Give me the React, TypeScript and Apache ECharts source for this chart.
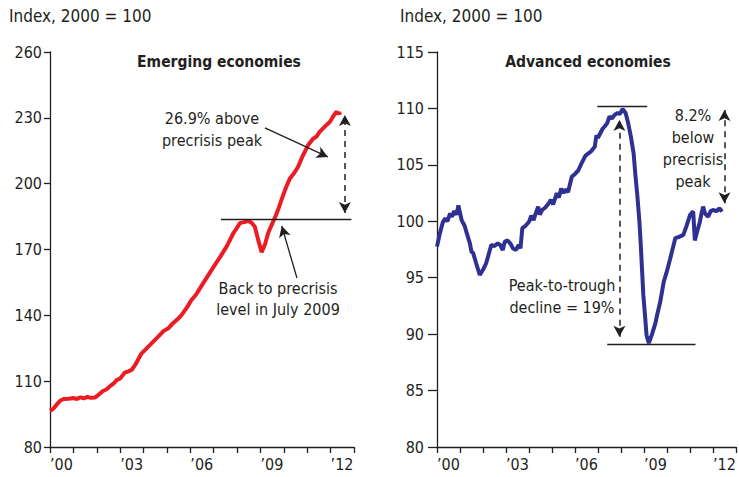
import React, { useEffect, useRef } from "react";
import * as echarts from "echarts";

// Emerging economies (decimal year, index 2000 = 100)
const emTimes = [
  2000.0, 2000.15, 2000.3, 2000.45, 2000.6, 2000.8, 2001.0, 2001.15, 2001.3, 2001.45, 2001.6, 2001.75, 2001.92,
  2002.1, 2002.25, 2002.42, 2002.6, 2002.75, 2002.85, 2003.0, 2003.2, 2003.35, 2003.49, 2003.65, 2003.8, 2003.92,
  2004.1, 2004.3, 2004.49, 2004.65, 2004.85, 2005.06, 2005.25, 2005.45, 2005.63, 2005.85, 2006.05, 2006.25,
  2006.41, 2006.75, 2007.05, 2007.3, 2007.55, 2007.84, 2008.0, 2008.12, 2008.3, 2008.48, 2008.62,
  2008.76, 2008.9, 2009.05, 2009.2, 2009.33, 2009.47, 2009.62, 2009.8, 2009.97, 2010.1, 2010.26, 2010.45,
  2010.61, 2010.8, 2011.04, 2011.25, 2011.4, 2011.54, 2011.75, 2011.97, 2012.1, 2012.25, 2012.32, 2012.36, 2012.4,
];
const emValues = [
  96.5, 97.5, 99.5, 101.2, 101.9, 102.0, 102.3, 101.9, 102.6, 102.2, 102.8, 102.4, 102.5,
  104.0, 105.4, 106.3, 108.0, 109.2, 110.5, 111.2, 113.9, 114.5, 115.1, 117.5, 120.5, 122.7,
  124.6, 126.8, 128.8, 130.5, 132.8, 134.1, 136.3, 138.2, 140.2, 143.5, 147.0, 149.5,
  152.3, 158.0, 163.0, 167.0, 171.3, 177.4, 180.0, 182.0, 182.5, 183.0, 182.2,
  180.4, 174.5, 168.8, 172.5, 177.5, 181.0, 184.5, 189.5, 194.8, 198.5, 202.4, 205.0,
  207.7, 212.5, 217.6, 220.5, 221.5, 223.7, 226.0, 228.2, 230.5, 232.8, 231.8, 232.6, 231.3,
];

// Advanced economies
const advTimes = [
  2000.0, 2000.12, 2000.25, 2000.36, 2000.45, 2000.57, 2000.65, 2000.75, 2000.85, 2000.93, 2001.07, 2001.2,
  2001.3, 2001.43, 2001.5, 2001.57, 2001.7, 2001.86, 2002.0, 2002.14, 2002.25, 2002.36, 2002.5, 2002.64,
  2002.75, 2002.86, 2002.95, 2003.07, 2003.2, 2003.3, 2003.43, 2003.55, 2003.63, 2003.71, 2003.85, 2004.0,
  2004.1, 2004.2, 2004.29, 2004.4, 2004.47, 2004.57, 2004.7, 2004.86, 2004.95, 2005.05, 2005.21, 2005.3,
  2005.4, 2005.5, 2005.57, 2005.7, 2005.86, 2006.0, 2006.14, 2006.3, 2006.45, 2006.57, 2006.7, 2006.86,
  2006.93, 2007.0, 2007.1, 2007.2, 2007.29, 2007.4, 2007.5, 2007.6, 2007.71, 2007.85, 2007.95, 2008.07,
  2008.2, 2008.3, 2008.43, 2008.55, 2008.63, 2008.71, 2008.8, 2008.86, 2008.92, 2008.97, 2009.05, 2009.11,
  2009.21, 2009.35, 2009.5, 2009.57, 2009.7, 2009.86, 2010.0, 2010.14, 2010.25, 2010.36, 2010.5, 2010.71,
  2010.85, 2011.0, 2011.1, 2011.14, 2011.21, 2011.3, 2011.43, 2011.5, 2011.57, 2011.65, 2011.79, 2011.9,
  2012.0, 2012.15, 2012.29, 2012.39,
];
const advValues = [
  97.75, 98.9, 99.9, 100.26, 100.0, 100.7, 100.4, 100.9, 100.6, 101.4, 100.1, 99.6,
  98.9, 98.05, 97.3, 97.2, 96.3, 95.24, 95.7, 96.3, 97.1, 97.9, 97.8, 98.05,
  97.9, 97.45, 98.2, 98.3, 98.0, 97.6, 97.45, 97.9, 97.6, 99.4, 99.6, 99.96,
  100.5, 100.1, 100.7, 101.3, 100.6, 101.0, 101.2, 101.6, 101.9, 101.5, 102.5, 102.1,
  102.9, 102.5, 102.8, 102.6, 103.95, 104.2, 104.5, 105.2, 105.8, 106.0, 106.2, 106.6,
  107.6, 107.4, 107.8, 108.2, 108.4, 108.7, 109.3, 109.1, 109.4, 109.6, 109.5, 109.95,
  109.6, 108.8, 107.5, 106.0, 104.0, 102.3, 100.0, 97.9, 95.5, 93.5, 91.5, 89.9,
  89.2, 90.0, 91.0, 91.7, 92.8, 94.65, 95.6, 96.7, 97.6, 98.5, 98.6, 98.8,
  99.6, 100.55, 100.8, 100.85, 98.3, 99.0, 99.96, 100.7, 101.3, 100.7, 100.4, 100.9,
  101.0, 100.9, 101.15, 100.85,
];

const yearMin = 2000;
const yearMax = 2013;
const labelYears = [2000, 2003, 2006, 2009, 2012];
const emAxis = { min: 80, max: 260, interval: 30 };
const advAxis = { min: 80, max: 115, interval: 5 };

// annotation values
const emPeak = 183.8;
const emNow = 231.3;
const advPeak = 110.15;
const advTrough = 89.1;

const FONT = "'Liberation Sans Narrow', 'Arial Narrow', 'DejaVu Sans Condensed', sans-serif";
const TXT = "#231f20";
const RED = "#ec1c24";
const BLUE = "#2e3192";

const zip = (t: number[], v: number[]) => t.map((x, i) => [x, v[i]]);

function xAxis(gridIndex: number, tickLen: number) {
  return {
    type: "value",
    gridIndex,
    min: yearMin,
    max: yearMax,
    interval: 1,
    axisLine: { show: true, onZero: false, lineStyle: { color: TXT, width: 1.3 } },
    axisTick: { show: true, length: tickLen, lineStyle: { color: TXT, width: 1.3 } },
    splitLine: { show: false },
    axisLabel: {
      color: TXT,
      fontFamily: FONT,
      fontSize: 16,
      align: "left",
      margin: 9,
      showMaxLabel: true,
      formatter: (v: number) =>
        labelYears.indexOf(Math.round(v)) >= 0 ? "\u2019" + String(Math.round(v)).slice(2) : "",
    },
  };
}

function yAxis(gridIndex: number, ax: any, tickLen: number, margin: number) {
  return {
    type: "value",
    gridIndex,
    min: ax.min,
    max: ax.max,
    interval: ax.interval,
    axisLine: { show: true, onZero: false, lineStyle: { color: TXT, width: 1.3 } },
    axisTick: { show: true, length: tickLen, lineStyle: { color: TXT, width: 1.3 } },
    splitLine: { show: false },
    axisLabel: { color: TXT, fontFamily: FONT, fontSize: 16, margin },
  };
}

const solid = { color: TXT, width: 1.3, type: "solid" };
const dashed = { color: TXT, width: 1.5, type: [6, 5] };

function seg(a: number[], b: number[], s0: string, s1: string, style: any) {
  return [
    { coord: a, symbol: s0, symbolSize: [9, 11], lineStyle: style },
    { coord: b, symbol: s1, symbolSize: [9, 11], lineStyle: style },
  ];
}

export default function App() {
  const ref = useRef<HTMLDivElement>(null);
  useEffect(() => {
    if (!ref.current) return;
    const chart = echarts.init(ref.current, null, { renderer: "svg" });
    chart.setOption({
      animation: false,
      grid: [
        { left: 50, top: 52, width: 304, height: 395 },
        { left: 437, top: 52, width: 302, height: 395 },
      ],
      xAxis: [xAxis(0, 6), xAxis(1, 6)],
      yAxis: [yAxis(0, emAxis, 6, 8), yAxis(1, advAxis, 9, 13)],
      series: [
        {
          type: "line",
          xAxisIndex: 0,
          yAxisIndex: 0,
          data: zip(emTimes, emValues),
          showSymbol: false,
          lineStyle: { color: RED, width: 4 },
          z: 3,
          markLine: {
            silent: true,
            animation: false,
            label: { show: false },
            data: [
              seg([2007.31, emPeak], [2012.89, emPeak], "none", "none", solid),
              seg([2012.61, 186.6], [2012.61, emNow], "arrow", "arrow", dashed),
              seg([2009.19, 225.4], [2011.88, 212.2], "none", "arrow", solid),
              seg([2010.56, 157.0], [2009.91, 180.7], "none", "arrow", solid),
            ],
          },
        },
        {
          type: "line",
          xAxisIndex: 1,
          yAxisIndex: 1,
          data: zip(advTimes, advValues),
          showSymbol: false,
          lineStyle: { color: BLUE, width: 4 },
          z: 3,
          markLine: {
            silent: true,
            animation: false,
            label: { show: false },
            data: [
              seg([2006.97, advPeak], [2009.14, advPeak], "none", "none", solid),
              seg([2007.4, advTrough], [2011.24, advTrough], "none", "none", solid),
              seg([2007.93, 89.77], [2007.93, 108.97], "arrow", "arrow", dashed),
              seg([2012.5, 101.6], [2012.5, 109.86], "arrow", "arrow", dashed),
            ],
          },
        },
      ],
      graphic: [
        { type: "text", left: 9, top: 7, style: { text: "Index, 2000 = 100", font: `17px ${FONT}`, fill: TXT } },
        { type: "text", left: 400, top: 7, style: { text: "Index, 2000 = 100", font: `17px ${FONT}`, fill: TXT } },
        {
          type: "text", x: 219, y: 62,
          style: { text: "Emerging economies", font: `bold 15.5px ${FONT}`, fill: TXT, textAlign: "center", textVerticalAlign: "middle" },
        },
        {
          type: "text", x: 588, y: 62,
          style: { text: "Advanced economies", font: `bold 15.5px ${FONT}`, fill: TXT, textAlign: "center", textVerticalAlign: "middle" },
        },
        {
          type: "text", x: 212, y: 129,
          style: { text: "26.9% above\nprecrisis peak", font: `16px ${FONT}`, lineHeight: 22, fill: TXT, textAlign: "center", textVerticalAlign: "middle" },
        },
        {
          type: "text", x: 278, y: 298.5,
          style: { text: "Back to precrisis\nlevel in July 2009", font: `16px ${FONT}`, lineHeight: 21, fill: TXT, textAlign: "center", textVerticalAlign: "middle" },
        },
        {
          type: "text", x: 693, y: 148,
          style: { text: "8.2%\nbelow\nprecrisis\npeak", font: `16px ${FONT}`, lineHeight: 22, fill: TXT, textAlign: "center", textVerticalAlign: "middle" },
        },
        {
          type: "text", x: 562, y: 296,
          style: { text: "Peak-to-trough\ndecline = 19%", font: `16px ${FONT}`, lineHeight: 22, fill: TXT, textAlign: "center", textVerticalAlign: "middle" },
        },
      ],
    });
    return () => chart.dispose();
  }, []);
  return (
    <div
      ref={ref}
      style={{ position: "fixed", left: 0, top: 0, width: 739, height: 477, background: "#fff" }}
    />
  );
}
